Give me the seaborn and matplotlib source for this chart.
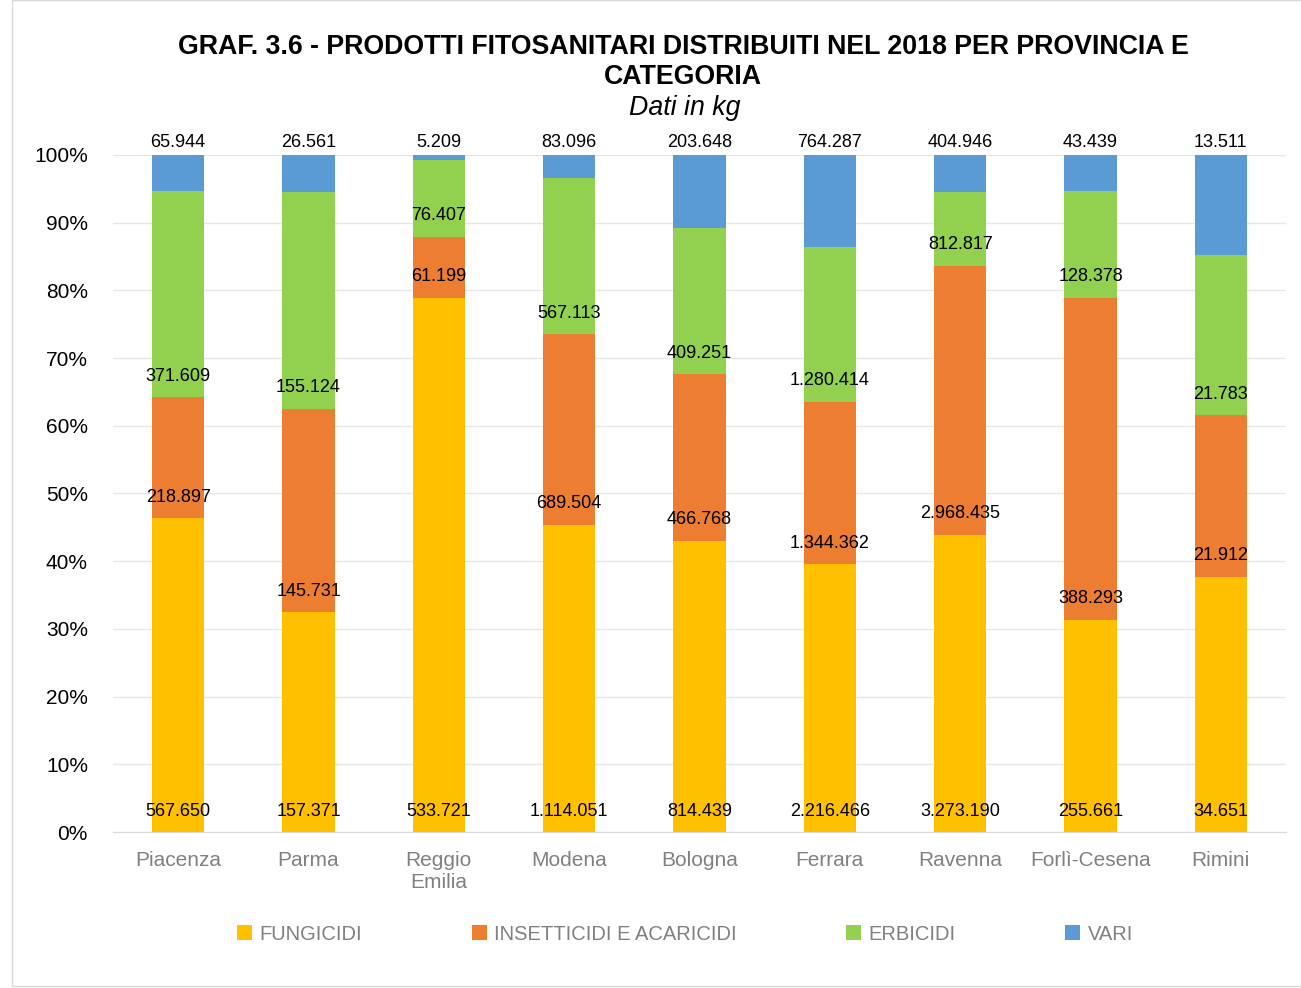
import os
import numpy as np
import pandas as pd
import seaborn as sns
from matplotlib import pyplot as plt
from matplotlib import font_manager
from matplotlib.patches import Rectangle, Patch

# dati (kg)
province = ["Piacenza", "Parma", "Reggio\nEmilia", "Modena", "Bologna",
            "Ferrara", "Ravenna", "Forlì-Cesena", "Rimini"]
fungicidi = [567650, 157371, 533721, 1114051, 814439, 2216466, 3273190, 255661, 34651]
insetticidi = [218897, 145731, 61199, 689504, 466768, 1344362, 2968435, 388293, 21912]
erbicidi = [371609, 155124, 76407, 567113, 409251, 1280414, 812817, 128378, 21783]
vari = [65944, 26561, 5209, 83096, 203648, 764287, 404946, 43439, 13511]

categorie = ["FUNGICIDI", "INSETTICIDI E ACARICIDI", "ERBICIDI", "VARI"]
colori = ["#FFC000", "#ED7D31", "#92D050", "#5B9BD5"]

valori = np.array([fungicidi, insetticidi, erbicidi, vari], dtype=float)
perc = valori / valori.sum(axis=0) * 100
cum = np.cumsum(perc, axis=0)

df = pd.DataFrame({"provincia": province})
for i in range(4):
    df["cum%d" % i] = cum[i]


def font(filename, size, **fallback):
    # cerca il file per nome, per avere proprio la variante giusta
    for f in font_manager.fontManager.ttflist:
        if os.path.basename(f.fname).lower() == filename.lower():
            return font_manager.FontProperties(fname=f.fname, size=size)
    return font_manager.FontProperties(family=["Liberation Sans", "DejaVu Sans"],
                                       size=size, **fallback)


sns.set_style("white")
plt.rcParams['font.family'] = ['Liberation Sans', 'DejaVu Sans']
plt.rcParams['text.color'] = 'black'

fig = plt.figure(figsize=(13.01, 9.88), dpi=100)
ax = fig.add_axes([113/1301, 156/988, 1173/1301, 677/988])

# barre impilate: si disegna dal totale verso il basso
for i in range(3, -1, -1):
    sns.barplot(data=df, x="provincia", y="cum%d" % i, color=colori[i],
                width=0.4, saturation=1, ax=ax, linewidth=0)

def fmt(v):
    return f"{int(v):,}".replace(",", ".")

lab = font("LiberationSans-Regular.ttf", 13)
# etichette alla base di ogni segmento
basi = np.vstack([np.zeros(len(province)), cum[:-1]])
for j in range(len(province)):
    for i in range(3):
        ax.text(j, basi[i, j] + 3.1, fmt(valori[i, j]), ha="center", va="center",
                fontproperties=lab, color="black")
    ax.text(j, 101.8, fmt(valori[3, j]), ha="center", va="center",
            fontproperties=lab, color="black")

ax.set_xlim(-0.5, len(province) - 0.5)
ax.set_ylim(0, 100)
ax.set_yticks(np.arange(0, 101, 10))
ax.set_yticklabels(["%d%%" % t for t in range(0, 101, 10)],
                   fontproperties=font("LiberationSans-Regular.ttf", 15), color="black")
ax.set_xticks(range(len(province)))
ax.set_xticklabels(province, fontproperties=font("LiberationSans-Regular.ttf", 15),
                   color="#808080", linespacing=1.15)
ax.set_xticks(np.arange(-0.5, len(province), 1), minor=True)
ax.tick_params(axis="x", which="major", length=0, pad=14)
ax.tick_params(axis="x", which="minor", length=6, color="#D9D9D9", width=1)
ax.tick_params(axis="y", length=0, pad=18)
ax.set_xlabel("")
ax.set_ylabel("")
ax.yaxis.grid(True, color="#E6E6E6", linewidth=1)
ax.set_axisbelow(True)
for s in ["top", "right", "left"]:
    ax.spines[s].set_visible(False)
ax.spines["bottom"].set_color("#D9D9D9")
ax.spines["bottom"].set_clip_on(False)

# titoli
tit = font("LiberationSans-Bold.ttf", 19.3, weight="bold")
fig.text(683/1301, 1 - 47/988, "GRAF. 3.6 - PRODOTTI FITOSANITARI DISTRIBUITI NEL 2018 PER PROVINCIA E",
         ha="center", va="center", fontproperties=tit, color="black")
fig.text(683/1301, 1 - 77/988, "CATEGORIA", ha="center", va="center", fontproperties=tit,
         color="black")
fig.text(685/1301, 1 - 108/988, "Dati in kg", ha="center", va="center", color="black",
         fontproperties=font("LiberationSans-Italic.ttf", 19.3, style="italic"))

# legenda
handles = [Patch(facecolor=c, edgecolor="none") for c in colori]
leg = fig.legend(handles, categorie, loc="center", bbox_to_anchor=(685/1301, 1 - 934/988),
                 ncol=4, frameon=False, handlelength=0.75, handleheight=0.75,
                 handletextpad=0.35, columnspacing=5.45,
                 prop=font("LiberationSansNarrow-Regular.ttf", 14.5))
for t in leg.get_texts():
    t.set_color("#808080")

# bordo del grafico
fig.patches.append(Rectangle((12/1301, 2/988), 1 - 12/1301, 1 - 2/988, transform=fig.transFigure,
                             fill=False, edgecolor="#D9D9D9", linewidth=1))

fig.savefig("out.png", dpi=100)
